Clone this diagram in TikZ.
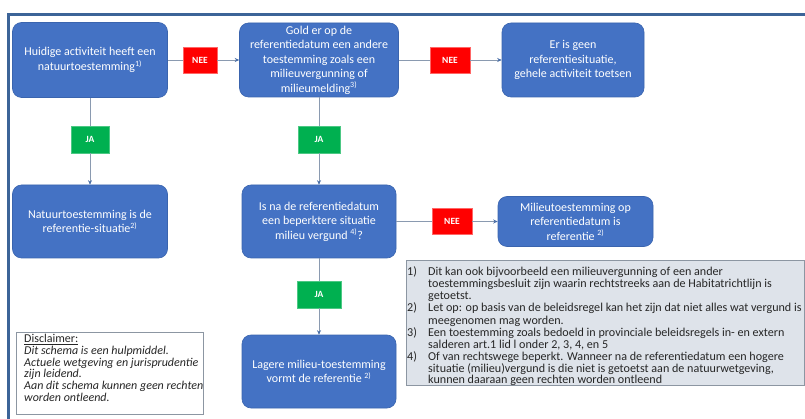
\documentclass[tikz,border=0pt]{standalone}
\usepackage{fontspec}
\setmainfont{Carlito}
\usetikzlibrary{arrows.meta}
\definecolor{boxblue}{HTML}{4472C4}
\definecolor{boxedge}{HTML}{3A64AE}
\definecolor{neered}{HTML}{FF0000}
\definecolor{jagreen}{HTML}{00B050}
\definecolor{framecol}{HTML}{3C6498}
\definecolor{linegray}{HTML}{8A9AB0}
\definecolor{tipblue}{HTML}{4A6FA8}
\definecolor{fnfill}{HTML}{DEE3EA}
\definecolor{fnedge}{HTML}{8C96A2}
\definecolor{txtdark}{HTML}{262626}
\newcommand{\fnlabel}[1]{\makebox[21pt][l]{#1}}
\begin{document}
\begin{tikzpicture}[x=1pt,y=-1pt,
  flow/.style={rounded corners=9pt, fill=boxblue, draw=boxedge, line width=0.6pt,
    text=white, align=center, inner sep=2pt, font=\fontsize{12}{14.5}\selectfont},
  neebox/.style={fill=neered, draw=neered!60!white, line width=0.6pt, text=white,
    minimum width=36pt, minimum height=26pt, inner sep=0pt, font=\fontsize{9.5}{10}\selectfont\bfseries},
  jabox/.style={fill=jagreen, draw=jagreen!70!white, line width=0.6pt, text=white,
    minimum width=40pt, minimum height=27pt, inner sep=0pt, font=\fontsize{9.5}{10}\selectfont\bfseries},
  conn/.style={draw=linegray, line width=0.8pt},
  arr/.style={conn, -{Stealth[length=4.5pt,width=4pt,color=tipblue]}},
  fnline/.style={anchor=base west, inner sep=0pt, text=txtdark, font=\fontsize{12.1}{12}\selectfont}]
\useasboundingbox (0,0) rectangle (805,419);
\fill[white] (0,0) rectangle (805,419);
% outer frame
\draw[framecol, line width=3pt] (8.5,419) -- (8.5,14.5) -- (805,14.5);

% flow boxes
\node[flow, minimum width=155pt, minimum height=75pt] (b1) at (90,60)
  {Huidige activiteit heeft een\\natuurtoestemming\textsuperscript{1)}};
\node[flow, minimum width=159pt, minimum height=74pt] (b2) at (319,60)
  {Gold er op de\\referentiedatum een andere\\toestemming zoals een\\milieuvergunning of\\milieumelding\textsuperscript{3)}};
\node[flow, minimum width=142pt, minimum height=74pt] (b3) at (573,60)
  {Er is geen\\referentiesituatie,\\gehele activiteit toetsen};
\node[flow, minimum width=155pt, minimum height=73pt] (b4) at (90,221.5)
  {Natuurtoestemming is de\\referentie-situatie\textsuperscript{2)}};
\node[flow, minimum width=154pt, minimum height=73pt] (b5) at (319,221.5)
  {Is na de referentiedatum\\een beperktere situatie\\milieu vergund \textsuperscript{4)}?};
\node[flow, minimum width=155pt, minimum height=50pt] (b6) at (575.5,221.5)
  {Milieutoestemming op\\referentiedatum is\\referentie \textsuperscript{2)}};
\node[flow, minimum width=154pt, minimum height=73pt] (b7) at (319,371.5)
  {Lagere milieu-toestemming\\vormt de referentie \textsuperscript{2)}};

% decision labels
\node[neebox, minimum width=34pt] (n1) at (200,60) {NEE};
\node[neebox, minimum width=40pt] (n2) at (450,60) {NEE};
\node[neebox, minimum width=40pt] (n3) at (452,221.5) {NEE};
\node[jabox, minimum width=38pt] (j1) at (90,139.5) {JA};
\node[jabox, minimum width=42pt] (j2) at (319,139.5) {JA};
\node[jabox, minimum width=44pt] (j3) at (319,294.5) {JA};

% connectors
\draw[conn] (b1.east) -- (n1.west);
\draw[arr] (n1.east) -- (b2.west);
\draw[conn] (b2.east) -- (n2.west);
\draw[arr] (n2.east) -- (b3.west);
\draw[conn] (b1.south) -- (j1.north);
\draw[arr] (j1.south) -- (b4.north);
\draw[conn] (b2.south) -- (j2.north);
\draw[arr] (j2.south) -- (b5.north);
\draw[conn] (b5.east) -- (n3.west);
\draw[arr] (n3.east) -- (b6.west);
\draw[conn] (b5.south) -- (j3.north);
\draw[arr] (j3.south) -- (b7.north);

% disclaimer
\node[draw=fnedge, fill=white, line width=0.8pt, minimum width=187pt, minimum height=82pt,
  inner sep=0pt, anchor=north west] (disc) at (16,332) {};
\node[anchor=north west, inner sep=0pt, align=left, text=txtdark,
  font=\fontsize{12}{11.8}\selectfont] (disctext) at ([xshift=8pt,yshift=-2pt]disc.north west)
  {\underline{Disclaimer:}\\
   \textit{Dit schema is een hulpmiddel.}\\
   \textit{Actuele wetgeving en jurisprudentie}\\
   \textit{zijn leidend.}\\
   \textit{Aan dit schema kunnen geen rechten}\\
   \textit{worden ontleend.}};

% footnotes
\node[draw=fnedge, fill=fnfill, line width=0.8pt, minimum width=398pt, minimum height=125pt,
  inner sep=0pt, anchor=north west] (fn) at (406,260) {};
\node[fnline] (f1) at (407,276) {\fnlabel{1)}Dit kan ook bijvoorbeeld een milieuvergunning of een ander};
\node[fnline] (f1b) at (428,288) {toestemmingsbesluit zijn waarin rechtstreeks aan de Habitatrichtlijn is};
\node[fnline] (f1c) at (428,300) {getoetst.};
\node[fnline] (f2) at (407,312) {\fnlabel{2)}Let op: op basis van de beleidsregel kan het zijn dat niet alles wat vergund is};
\node[fnline] (f2b) at (428,324) {meegenomen mag worden.};
\node[fnline] (f3) at (407,336) {\fnlabel{3)}Een toestemming zoals bedoeld in provinciale beleidsregels in- en extern};
\node[fnline] (f3b) at (428,348) {salderen art.1 lid l onder 2, 3, 4, en 5};
\node[fnline] (f4) at (407,360) {\fnlabel{4)}Of van rechtswege beperkt. Wanneer na de referentiedatum een hogere};
\node[fnline] (f4b) at (428,372) {situatie (milieu)vergund is die niet is getoetst aan de natuurwetgeving,};
\node[fnline] (f4c) at (428,383) {kunnen daaraan geen rechten worden ontleend};
\end{tikzpicture}
\end{document}
